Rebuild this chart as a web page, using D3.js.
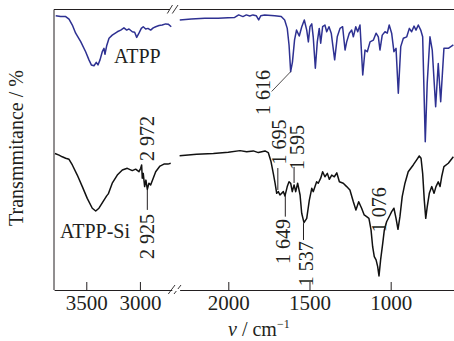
<!DOCTYPE html>
<html><head><meta charset="utf-8">
<script src="https://cdnjs.cloudflare.com/ajax/libs/d3/7.8.5/d3.min.js"></script>
<style>
html,body{margin:0;padding:0;background:#fff;}
svg{display:block;}
text{font-family:"Liberation Serif","Times New Roman",serif;fill:#231f20;}
</style></head>
<body><svg id="c" width="454" height="341"></svg>
<script>
// ---- data (wavenumber cm^-1, transmittance in arbitrary %) ----
const atppWnL = [3785,3739,3692,3661,3630,3599,3552,3506,3475,3453,3428,3407,3391,3372,3351,3335,3326,3310,3288,3258,3211,3179,3149,3123,3102,3071,3049,3030,3009,2987,2969,2946,2925,2900,2876,2853,2822,2792,2760,2736,2708];
const atppTL  = [97.6,97.3,97.3,96.4,94.3,91.4,88.4,84.8,81.9,80.1,79.8,81.0,80.1,81.9,84.8,86.0,83.9,86.9,89.6,90.7,91.9,92.5,93.3,92.5,92.9,91.9,91.7,89.9,91.4,93.1,93.7,92.9,93.1,92.5,93.3,93.7,94.1,94.3,94.7,94.6,93.7];
const atppWnR = [2299,2228,2145,2063,2002,1961,1936,1910,1889,1868,1848,1828,1813,1800,1776,1714,1674,1653,1637,1626,1616,1605,1592,1580,1563,1548,1532,1517,1507,1497,1486,1477,1464,1452,1440,1431,1419,1405,1394,1380,1366,1345,1329,1312,1296,1281,1271,1255,1240,1230,1215,1203,1189,1172,1158,1144,1127,1107,1090,1076,1066,1052,1035,1021,1009,994,980,967,953,938,922,901,885,871,856,844,830,815,803,787,775,758,744,723,707,692,672,645,614];
const atppTR  = [96.1,96.4,96.7,96.7,96.9,97.0,97.9,97.3,97.9,97.5,97.9,97.6,96.1,97.6,97.9,97.6,97.3,96.1,93.1,87.2,77.7,81.1,89.0,92.5,90.4,93.6,96.1,92.5,88.3,93.7,94.7,90.1,78.9,88.3,93.1,87.8,93.7,94.3,91.9,93.7,91.4,81.9,90.1,93.1,93.7,85.4,88.3,91.4,92.5,90.1,93.7,91.9,94.3,76.5,85.4,84.8,88.3,88.9,91.4,90.1,85.4,90.7,91.9,91.4,94.3,91.4,84.8,86.0,70.0,86.6,89.6,90.1,93.1,91.9,93.9,92.5,94.3,92.5,90.1,52.8,73.6,90.1,85.4,65.2,80.6,67.0,86.0,86.0,87.2];

const siWnL = [3792,3754,3724,3692,3661,3630,3584,3537,3491,3444,3412,3382,3335,3310,3295,3258,3211,3164,3118,3071,3040,3009,2993,2984,2978,2969,2956,2944,2931,2916,2900,2876,2853,2813,2776,2739,2713];
const siTL  = [48.6,48.0,47.4,46.9,46.5,44.5,40.9,36.8,32.6,29.1,28.1,29.1,32.0,33.5,34.2,38.0,40.9,42.7,43.3,42.5,43.0,42.1,43.3,44.5,39.8,41.5,36.8,39.1,35.8,38.0,37.4,39.8,42.1,44.1,44.8,44.8,45.1];
const siWnR = [2300,2195,2092,2000,1928,1887,1846,1815,1774,1754,1737,1723,1712,1702,1692,1682,1661,1651,1637,1626,1616,1606,1595,1585,1573,1558,1548,1534,1517,1501,1486,1477,1466,1456,1446,1431,1419,1405,1390,1378,1363,1347,1332,1316,1292,1271,1251,1230,1214,1197,1179,1163,1148,1134,1121,1111,1101,1090,1080,1072,1062,1049,1039,1025,1004,994,980,967,955,943,929,912,892,861,840,824,813,803,793,784,775,762,747,733,721,707,696,686,672,645,614];
const siTR  = [47.8,48.3,48.6,49.0,49.6,49.2,49.5,48.9,49.5,48.9,45.7,41.5,38.0,34.4,35.0,33.8,35.0,33.5,36.8,38.5,38.0,35.0,37.4,35.0,38.0,33.8,27.3,24.0,25.5,32.0,36.2,35.0,36.8,38.5,38.0,39.8,42.1,40.3,41.5,39.4,40.9,40.3,41.7,38.5,38.0,36.8,35.6,31.4,28.5,31.4,29.1,26.7,26.1,25.5,21.4,15.4,11.9,10.7,8.3,5.0,10.7,16.6,21.4,24.3,26.7,27.9,29.1,25.5,21.6,26.1,33.2,38.0,42.1,44.5,46.3,47.7,46.9,41.5,32.0,25.5,29.6,34.4,36.8,34.4,36.8,38.5,36.8,40.3,43.9,45.1,47.4];

const ticksL = [3500, 3000];
const ticksR = [2000, 1500, 1000];
const seriesNames = ["ATPP", "ATPP-Si"];
// annotations: text, segment, peak wavenumber, label-centre T, label x offset, leader [T1,T2]
const annText = ["2 972","2 925","1 616","1 695","1 595","1 649","1 537","1 076"];
const annSeg  = ["L","L","R","R","R","R","R","R"];
const annWn   = [2972, 2931, 1616, 1695, 1595, 1649, 1537, 1076];
const annT    = [53.9, 19.0, 70.3, 52.7, 50.7, 17.3, 9.3, 28.6];
const annDx   = [3.6, -0.3, -27.7, 1.2, 3.4, -2.8, 2.2, 0.6];
const annLine = [null,[35.6,28.5],"diag",[43.4,35.6],[43.8,38.1],[33.8,26.1],[23.8,17.8],null];

// ---- layout ----
const FONT = "Liberation Serif, Times New Roman, serif";
const svg = d3.select("#c");
const X0 = 54, TOP = 9.5, BOT = 290, RIGHT = 454;
const xL = d3.scaleLinear().domain([3800, 2700]).range([54.1, 172.1]);
const xR = d3.scaleLinear().domain([2300, 610]).range([179.6, 454]);
const y = d3.scaleLinear().domain([0, 100]).range([BOT, TOP - 0.5]);
const ink = "#231f20";

function drawLine(xs, wn, t, color) {
  const pts = wn.map((w, i) => [w, t[i]]);
  svg.append("path").datum(pts)
    .attr("fill", "none").attr("stroke", color).attr("stroke-width", 1.5)
    .attr("stroke-linejoin", "round")
    .attr("d", d3.line().x(d => xs(d[0])).y(d => y(d[1])));
}
drawLine(xL, atppWnL, atppTL, "#2e3192");
drawLine(xR, atppWnR, atppTR, "#2e3192");
drawLine(xL, siWnL, siTL, "#111");
drawLine(xR, siWnR, siTR, "#111");

// axes
const axL = d3.axisBottom(xL).tickValues(ticksL).tickSizeInner(-8).tickSizeOuter(0).tickPadding(5.5).tickFormat(d3.format("d"));
const axR = d3.axisBottom(xR).tickValues(ticksR).tickSizeInner(-8).tickSizeOuter(0).tickPadding(5.5).tickFormat(d3.format("d"));
[axL, axR].forEach(ax => {
  const g = svg.append("g").attr("transform", `translate(0,${BOT})`).call(ax);
  g.selectAll("path,line").attr("stroke", ink).attr("stroke-width", 1);
  g.selectAll("text").attr("font-family", FONT).attr("font-size", 21).attr("fill", ink).attr("dy", "0.71em");
});
// frame: left and top
svg.append("line").attr("x1", X0).attr("x2", X0).attr("y1", TOP).attr("y2", BOT).attr("stroke", ink);
svg.append("line").attr("x1", X0).attr("x2", 170).attr("y1", TOP).attr("y2", TOP).attr("stroke", ink);
svg.append("line").attr("x1", 179.6).attr("x2", RIGHT).attr("y1", TOP).attr("y2", TOP).attr("stroke", ink);
// break marks
[[168.3,294,175,285],[174,294,181,285],[167.3,13.5,172.5,5],[172.3,13.5,178,5]].forEach(s => {
  svg.append("line").attr("x1", s[0]).attr("y1", s[1]).attr("x2", s[2]).attr("y2", s[3]).attr("stroke", ink).attr("stroke-width", 0.9);
});
svg.append("rect").attr("x", 172.5).attr("y", BOT - 1).attr("width", 6.5).attr("height", 2).attr("fill", "#fff");

// series labels
svg.append("text").attr("x", 114).attr("y", 63).attr("font-family", FONT).attr("font-size", 20).text(seriesNames[0]);
svg.append("text").attr("x", 60).attr("y", 238).attr("font-family", FONT).attr("font-size", 20).text(seriesNames[1]);

// annotations
annText.forEach((t, i) => {
  const xs = annSeg[i] === "L" ? xL : xR;
  const px = xs(annWn[i]);
  const ln = annLine[i];
  if (ln === "diag") {
    const si = atppWnR.indexOf(annWn[i]);
    svg.append("line").attr("x1", px).attr("y1", y(atppTR[si]))
      .attr("x2", px - 19).attr("y2", y(annT[i]) - 1).attr("stroke", ink).attr("stroke-width", 0.8);
  } else if (ln) {
    svg.append("line").attr("x1", px).attr("x2", px).attr("y1", y(ln[0])).attr("y2", y(ln[1]))
      .attr("stroke", ink).attr("stroke-width", 1);
  }
  svg.append("text")
    .attr("transform", `translate(${px + annDx[i]},${y(annT[i])}) rotate(-90)`)
    .attr("text-anchor", "middle").attr("dy", "0.35em")
    .attr("font-family", FONT).attr("font-size", 20).text(t);
});

// axis titles
svg.append("text").attr("transform", "translate(23,148) rotate(-90)")
  .attr("text-anchor", "middle").attr("font-family", FONT).attr("font-size", 20).text("Transmmitance / %");
const xt = svg.append("text").attr("x", 228).attr("y", 336).attr("font-family", FONT).attr("font-size", 20);
xt.append("tspan").attr("font-style", "italic").text("v");
xt.append("tspan").text(" / cm");
xt.append("tspan").attr("font-size", 12).attr("dy", -8).text("−1");
</script></body></html>
